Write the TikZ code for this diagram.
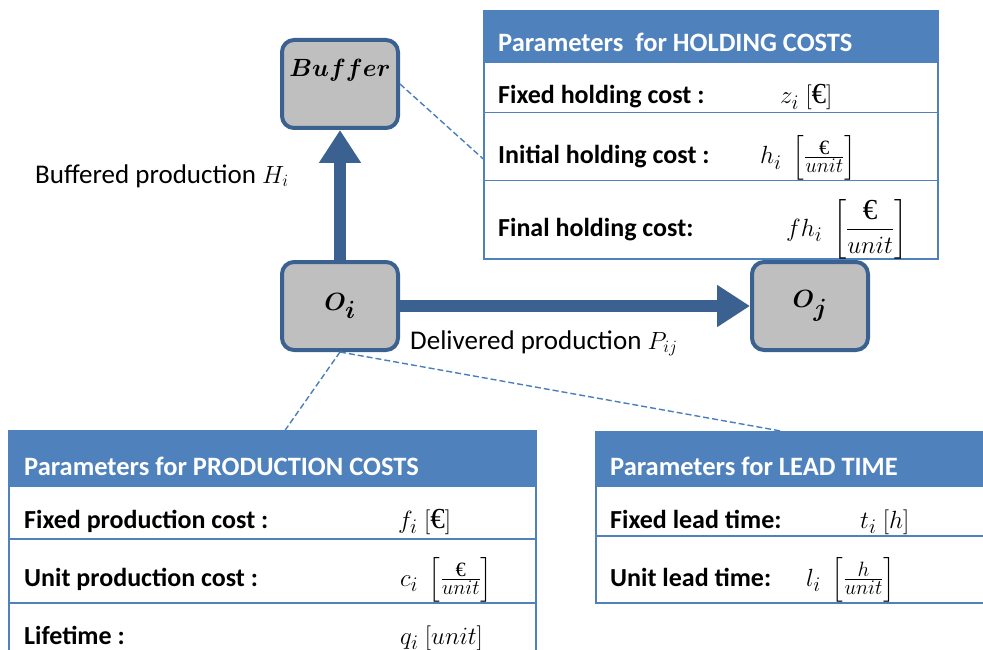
\documentclass[tikz,border=0pt]{standalone}
\usepackage{amsmath,bm}
\usepackage{fontspec}
\setmainfont{Carlito}
\newfontfamily\eurofont{Liberation Serif}
\newcommand{\eur}{\text{\eurofont €}}
\usetikzlibrary{arrows.meta,calc}

\definecolor{boxline}{HTML}{3A6190}
\definecolor{boxfill}{HTML}{BFBFBF}
\definecolor{headblue}{HTML}{4F81BD}
\definecolor{dashblue}{HTML}{4A7EBB}

\tikzset{
  proc/.style={draw=boxline, fill=boxfill, line width=4pt, rounded corners=12pt,
    minimum width=116pt, minimum height=88pt, inner sep=0pt,
    font=\fontsize{37}{40}\selectfont},
  flow/.style={draw=boxline, line width=12pt,
    -{Triangle[width=40pt,length=33pt]}},
  callout/.style={draw=dashblue, line width=1.4pt, dash pattern=on 6pt off 3pt},
  headcell/.style={draw=headblue, fill=headblue, line width=1.5pt, anchor=north west,
    inner sep=0pt},
  rowcell/.style={draw=headblue, fill=white, line width=1.5pt, anchor=north west,
    inner sep=0pt},
  headtxt/.style={anchor=base west, inner sep=0pt, text=white,
    font=\fontsize{26.5}{30}\selectfont\bfseries},
  rowtxt/.style={anchor=base west, inner sep=0pt,
    font=\fontsize{26}{30}\selectfont\bfseries},
  mathtxt/.style={anchor=base west, inner sep=0pt,
    font=\fontsize{29}{33}\selectfont},
  flowtxt/.style={anchor=base west, inner sep=0pt,
    font=\fontsize{27}{31}\selectfont},
}

\begin{document}
\begin{tikzpicture}[x=1pt,y=-1pt]
\useasboundingbox (0,0) rectangle (983,650);

% process boxes
\node[proc, font=\fontsize{27}{31}\selectfont, text height=20pt, text depth=34pt]
  (buf) at (340,84) {$\bm{Buffer}$};
\node[proc] (oi) at (340,306) {$\bm{O_i}$};
\node[proc] (oj) at (810,306) {$\bm{O_j}$};

% material flows
\draw[flow] (oi.north) -- (buf.south);
\draw[flow] (oi.east) -- (oj.west);
\node[flowtxt] (lblH) at (35,183) {Buffered production $H_i$};
\node[flowtxt] (lblP) at (410,349) {Delivered production $P_{ij}$};

% holding cost table
\node[headcell, minimum width=454pt, minimum height=52pt] (hh) at (483,10) {};
\node[rowcell, minimum width=454pt, minimum height=50pt] (hr1) at (483,62) {};
\node[rowcell, minimum width=454pt, minimum height=68pt] (hr2) at (483,112) {};
\node[rowcell, minimum width=454pt, minimum height=78pt] (hr3) at (483,180) {};
\node[headtxt] (hht) at (498,52) {Parameters\ \ for HOLDING COSTS};
\node[rowtxt] (hr1t) at (498,104) {Fixed holding cost :};
\node[rowtxt] (hr2t) at (498,164) {Initial holding cost :};
\node[rowtxt] (hr3t) at (498,236) {Final holding cost:};
\node[mathtxt] (hr1m) at (780,104) {$z_i\ [\eur]$};
\node[mathtxt] (hr2m) at (760,164) {$h_i\ \left[\tfrac{\eur}{unit}\right]$};
\node[mathtxt] (hr3m) at (786,236) {$f h_i\ \left[\dfrac{\eur}{unit}\right]$};

% production cost table
\node[headcell, minimum width=527pt, minimum height=55pt] (ph) at (8,430) {};
\node[rowcell, minimum width=527pt, minimum height=53pt] (pr1) at (8,485) {};
\node[rowcell, minimum width=527pt, minimum height=64pt] (pr2) at (8,538) {};
\node[rowcell, minimum width=527pt, minimum height=70pt] (pr3) at (8,602) {};
\node[headtxt] (pht) at (24,475) {Parameters for PRODUCTION COSTS};
\node[rowtxt] (pr1t) at (24,528) {Fixed production cost :};
\node[rowtxt] (pr2t) at (24,586) {Unit production cost :};
\node[rowtxt] (pr3t) at (24,644) {Lifetime :};
\node[mathtxt] (pr1m) at (398,528) {$f_i\ [\eur]$};
\node[mathtxt] (pr2m) at (400,586) {$c_i\ \left[\tfrac{\eur}{unit}\right]$};
\node[mathtxt] (pr3m) at (400,644) {$q_i\ [unit]$};

% lead time table
\node[headcell, minimum width=420pt, minimum height=54pt] (lh) at (595,431) {};
\node[rowcell, minimum width=420pt, minimum height=50pt] (lr1) at (595,485) {};
\node[rowcell, minimum width=420pt, minimum height=67pt] (lr2) at (595,535) {};
\node[headtxt] (lht) at (610,475) {Parameters for LEAD TIME};
\node[rowtxt] (lr1t) at (610,528) {Fixed lead time:};
\node[rowtxt] (lr2t) at (610,586) {Unit lead time:};
\node[mathtxt] (lr1m) at (860,528) {$t_i\ [h]$};
\node[mathtxt] (lr2m) at (806,586) {$l_i\ \left[\tfrac{h}{unit}\right]$};

% callouts
\coordinate (hin) at ($(hr2.west)+(0,12)$);
\coordinate (pin) at ($(ph.north)+(13,0)$);
\coordinate (lin) at ($(lh.north)+(-25,0)$);
\draw[callout] (buf.east) -- (hin);
\draw[callout] (oi.south) -- (pin);
\draw[callout] (oi.south) -- (lin);
\end{tikzpicture}
\end{document}
